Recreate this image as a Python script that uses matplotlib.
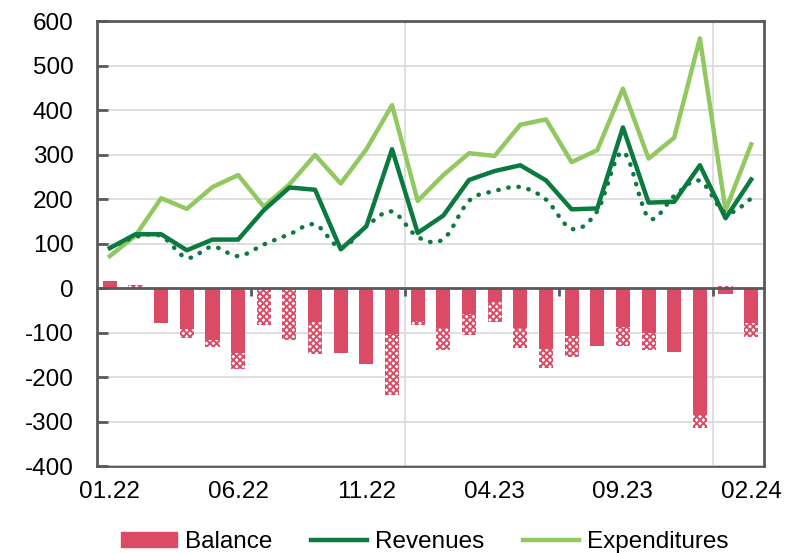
import numpy as np
import matplotlib
matplotlib.use('Agg')
import matplotlib.pyplot as plt
from matplotlib.path import Path
from matplotlib.patches import PathPatch, Patch
from matplotlib.lines import Line2D

plt.rcParams['font.family'] = ['Liberation Sans', 'DejaVu Sans']
plt.rcParams['axes.unicode_minus'] = False
plt.rcParams['hatch.linewidth'] = 1.4

# monthly data 01.22 - 02.24
months = ['01.22', '02.22', '03.22', '04.22', '05.22', '06.22', '07.22', '08.22', '09.22', '10.22',
          '11.22', '12.22', '01.23', '02.23', '03.23', '04.23', '05.23', '06.23', '07.23', '08.23',
          '09.23', '10.23', '11.23', '12.23', '01.24', '02.24']
balance_solid = [16, 0, -78, -92, -116, -146, 0, -5, -76, -145, -170, -103, -73,
                 -90, -59, -32, -89, -137, -107, -131, -87, -100, -143, -286, -14, -78]
balance_hatch = [0, 8, 0, -21, -16, -36, -83, -111, -73, 0, 0, -138, -10,
                 -50, -46, -44, -45, -43, -47, 0, -44, -40, 0, -29, 4, -32]
revenues = [90, 121, 121, 85, 109, 109, 175, 226, 221, 87, 139, 312, 124,
            163, 243, 263, 276, 242, 177, 179, 361, 192, 194, 276, 157, 244]
revenues_dotted = [90, 115, 117, 68, 93, 72, 98, 121, 143, 91, 139, 172, 115,
                   110, 196, 218, 227, 199, 133, 173, 306, 158, 207, 241, 169, 201]
expenditures = [72, 118, 202, 178, 227, 254, 183, 233, 299, 235, 312, 411, 196,
                254, 303, 297, 367, 379, 283, 310, 448, 291, 338, 561, 175, 323]

red = '#DC4B66'
dark_green = '#0A7A3E'
light_green = '#92C860'
axis_grey = '#595959'
grid_grey = '#D9D9D9'
fs = 17.5

x = np.arange(len(months))
solid = np.array(balance_solid, dtype=float)
hatch = np.array(balance_hatch, dtype=float)
# hatched part stacks on solid part when same sign
hatch_base = np.where(np.sign(hatch) == np.sign(solid), solid, 0)

fig = plt.figure(figsize=(7.87, 5.53), dpi=100)
ax = fig.add_axes([0.1233, 0.157, 0.8475, 0.805])

ax.set_ylim(-400, 600)
ax.set_xlim(-0.5, len(months) - 0.5)
ax.set_yticks(np.arange(-400, 601, 100))
ax.grid(axis='y', color=grid_grey, linewidth=1.2, zorder=0)
ax.set_axisbelow(True)
for xv in [11.5, 23.5]:
    ax.axvline(xv, color=grid_grey, linewidth=1.2, zorder=0)

ax.bar(x, solid, width=0.55, color=red, zorder=2)
ax.bar(x, hatch, bottom=hatch_base, width=0.55, color='white', edgecolor=red,
       hatch='xxxxx', linewidth=0, zorder=2)

ax.plot(x, expenditures, color=light_green, linewidth=3.2, zorder=3)
ax.plot(x, revenues, color=dark_green, linewidth=3.2, zorder=4)

# smoothed dotted line (bezier through the points)
pts = np.column_stack([x, revenues_dotted]).astype(float)
verts = [pts[0]]
codes = [Path.MOVETO]
n = len(pts)
for i in range(n - 1):
    p0 = pts[max(i - 1, 0)]
    p1 = pts[i]
    p2 = pts[i + 1]
    p3 = pts[min(i + 2, n - 1)]
    verts += [p1 + (p2 - p0) / 6, p2 - (p3 - p1) / 6, p2]
    codes += [Path.CURVE4] * 3
ax.add_patch(PathPatch(Path(verts, codes), fill=False, edgecolor=dark_green,
                       linewidth=3.2, linestyle=(0, (0.1, 2.2)), capstyle='round', zorder=4))

# zero axis with category ticks
ax.spines['bottom'].set_position(('data', 0))
ax.spines['bottom'].set_color(axis_grey)
ax.spines['bottom'].set_linewidth(2)
ax.set_xticks([5.5, 11.5, 17.5, 23.5])
ax.set_xticklabels([])
ax.tick_params(axis='x', direction='out', length=6, width=2, color=axis_grey)
for s in ['left', 'top', 'right']:
    ax.spines[s].set_color(axis_grey)
    ax.spines[s].set_linewidth(2)
ax.tick_params(axis='y', direction='in', length=8, width=2, color=axis_grey,
               labelsize=fs, pad=17)

sec = ax.secondary_xaxis('bottom')
sec.set_xticks(x[::5])
sec.set_xticklabels(months[::5])
sec.tick_params(length=0, labelsize=fs, pad=11)
sec.spines['bottom'].set_color(axis_grey)
sec.spines['bottom'].set_linewidth(2)

handles = [Patch(color=red), Line2D([], [], color=dark_green, linewidth=3.2),
           Line2D([], [], color=light_green, linewidth=3.2)]
fig.legend(handles, ['Balance', 'Revenues', 'Expenditures'], loc='lower center',
           bbox_to_anchor=(0.54, -0.04), ncol=3, frameon=False, fontsize=fs,
           handlelength=2.3, handleheight=0.6, handletextpad=0.33, columnspacing=1.6)

fig.savefig('out.png', dpi=100)
